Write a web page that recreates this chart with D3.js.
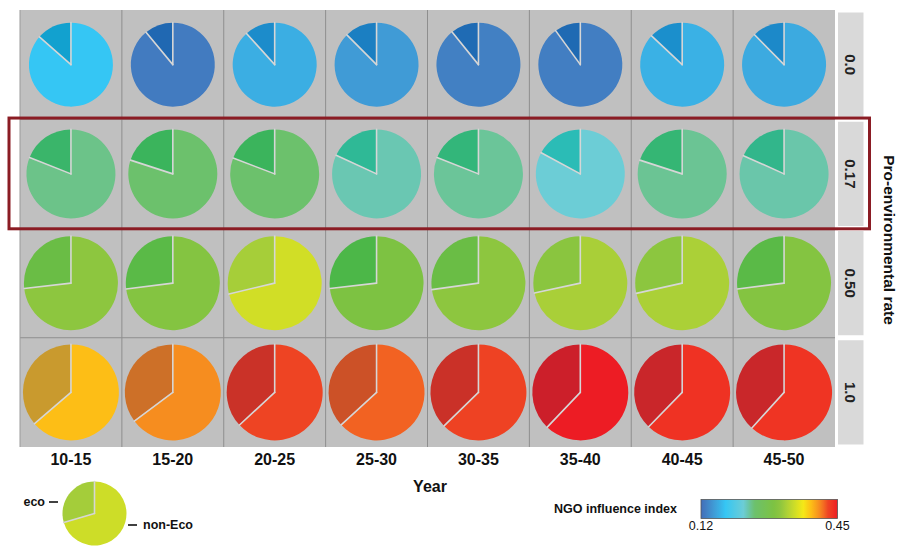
<!DOCTYPE html>
<html>
<head>
<meta charset="utf-8">
<script src="https://cdn.jsdelivr.net/npm/d3@7"></script>
<style>
  html, body { margin: 0; padding: 0; background: #ffffff; }
  svg { display: block; font-family: "Liberation Sans", Arial, sans-serif; }
</style>
</head>
<body>
<svg id="chart" width="898" height="548"></svg>
<script>
// Year windows (columns) and pro-environmental rates (rows)
const years = ["10-15", "15-20", "20-25", "25-30", "30-35", "35-40", "40-45", "45-50"];
const rates = ["0.0", "0.17", "0.50", "1.0"];

// NGO influence index per cell (row = rate, column = year window)
const ngoIndexRate00 = [0.179, 0.130, 0.164, 0.151, 0.133, 0.132, 0.166, 0.161];
const ngoIndexRate017 = [0.242, 0.250, 0.250, 0.232, 0.238, 0.2225, 0.2394, 0.234];
const ngoIndexRate050 = [0.311, 0.303, 0.348, 0.296, 0.311, 0.326, 0.327, 0.303];
const ngoIndexRate100 = [0.386, 0.406, 0.427, 0.419, 0.428, 0.450, 0.438, 0.437];

// Share of eco agents per cell
const ecoShareRate00 = [0.135, 0.110, 0.117, 0.125, 0.108, 0.100, 0.130, 0.124];
const ecoShareRate017 = [0.190, 0.200, 0.192, 0.181, 0.190, 0.171, 0.200, 0.183];
const ecoShareRate050 = [0.268, 0.270, 0.287, 0.268, 0.272, 0.284, 0.285, 0.270];
const ecoShareRate100 = [0.363, 0.352, 0.369, 0.368, 0.373, 0.379, 0.377, 0.383];

// Example pie in the key
const legendIndex = 0.346;
const legendEcoShare = 0.295;

// Colour index range shown on the colour bar
const indexDomain = [0.12, 0.45];
const indexTicks = ["0.12", "0.45"];

// Palette for the non-eco share and the shaded palette for the eco share
const mainStops = [0.120, 0.130, 0.151, 0.164, 0.179, 0.2225, 0.232, 0.242, 0.250, 0.296, 0.311, 0.327, 0.348, 0.367, 0.386, 0.406, 0.419, 0.427, 0.438, 0.450];
const mainColors = ["#426eb9", "#427bc0", "#409bd6", "#3baee3", "#35c6f4", "#6ccdd6", "#6ac7b2", "#6cc389", "#6cc16c", "#7dc242", "#8dc63f", "#abd037", "#d1de26", "#f5e917", "#fdbe16", "#f68d1f", "#f26222", "#ee4423", "#ef3223", "#ed1c24"];
const ecoStops = [0.120, 0.132, 0.151, 0.164, 0.179, 0.2225, 0.232, 0.234, 0.238, 0.242, 0.250, 0.296, 0.311, 0.327, 0.348, 0.386, 0.406, 0.419, 0.427, 0.438, 0.450];
const ecoColors = ["#2360ac", "#1f6ab3", "#1b7fc2", "#1c8ccb", "#12a1cf", "#2bbcb6", "#2fb996", "#32b68b", "#33b67a", "#3ab56a", "#3bb45c", "#4cb748", "#6abd45", "#8cc63f", "#a6ce39", "#c99a2e", "#cd7028", "#cc5127", "#ca3228", "#c9262a", "#cc1f2a"];

const ngoIndex = [ngoIndexRate00, ngoIndexRate017, ngoIndexRate050, ngoIndexRate100];
const ecoShare = [ecoShareRate00, ecoShareRate017, ecoShareRate050, ecoShareRate100];

const mainColor = d3.scaleLinear().domain(mainStops).range(mainColors).interpolate(d3.interpolateRgb).clamp(true);
const ecoColor = d3.scaleLinear().domain(ecoStops).range(ecoColors).interpolate(d3.interpolateRgb).clamp(true);

const svg = d3.select("#chart");
const font = "'Liberation Sans', Arial, sans-serif";

// Panel grid
const x = d3.scaleBand().domain(years).range([20, 835]);
const y = d3.scaleBand().domain(rates).range([10, 447]);
const pieRadius = [42, 44.5, 47, 48];

svg.append("rect")
  .attr("x", x.range()[0]).attr("y", y.range()[0])
  .attr("width", x.range()[1] - x.range()[0])
  .attr("height", y.range()[1] - y.range()[0])
  .attr("fill", "#c0c0c0");

// Cell separators
const gridG = svg.append("g").attr("stroke", "#8e8e8e").attr("stroke-width", 1);
years.forEach((yr, i) => {
  if (i === 0) return;
  gridG.append("line")
    .attr("x1", x(yr)).attr("x2", x(yr))
    .attr("y1", y.range()[0]).attr("y2", y.range()[1]);
});
rates.forEach((r, i) => {
  if (i === 0) return;
  gridG.append("line")
    .attr("x1", x.range()[0]).attr("x2", x.range()[1])
    .attr("y1", y(r)).attr("y2", y(r));
});
gridG.append("line")
  .attr("x1", x.range()[0]).attr("x2", x.range()[0])
  .attr("y1", y.range()[0]).attr("y2", y.range()[1])
  .attr("stroke", "#9a9a9a");

// Draws one eco / non-eco pie
function drawPie(g, cx, cy, r, share, idx) {
  const pie = d3.pie()
    .sort(null)
    .value(d => d.value)
    .startAngle(-share * 2 * Math.PI)
    .endAngle((1 - share) * 2 * Math.PI);
  const arc = d3.arc().innerRadius(0).outerRadius(r);
  const parts = pie([
    { key: "eco", value: share },
    { key: "non-Eco", value: 1 - share }
  ]);
  const pg = g.append("g").attr("transform", `translate(${cx},${cy})`);
  pg.selectAll("path")
    .data(parts)
    .join("path")
    .attr("d", arc)
    .attr("fill", d => d.data.key === "eco" ? ecoColor(idx) : mainColor(idx));
  // slice dividers
  [parts[0].startAngle, parts[0].endAngle].forEach(a => {
    pg.append("line")
      .attr("x1", 0).attr("y1", 0)
      .attr("x2", r * Math.sin(a)).attr("y2", -r * Math.cos(a))
      .attr("stroke", "#d6d6d6")
      .attr("stroke-width", 1.6)
      .attr("stroke-linecap", "round");
  });
}

const pieG = svg.append("g");
rates.forEach((rate, ri) => {
  years.forEach((yr, ci) => {
    drawPie(pieG,
      x(yr) + x.bandwidth() / 2,
      y(rate) + y.bandwidth() / 2,
      pieRadius[ri],
      ecoShare[ri][ci],
      ngoIndex[ri][ci]);
  });
});

// Row strips on the right
const stripG = svg.append("g");
rates.forEach(rate => {
  const y0 = y(rate) + 2.5;
  const h = y.bandwidth() - 5;
  stripG.append("rect")
    .attr("x", 838).attr("y", y0)
    .attr("width", 25.5).attr("height", h)
    .attr("fill", "#d9d9d9");
  stripG.append("text")
    .attr("transform", `translate(850.5,${y0 + h / 2}) rotate(90)`)
    .attr("text-anchor", "middle")
    .attr("dominant-baseline", "central")
    .attr("font-family", font)
    .attr("font-size", 15)
    .attr("font-weight", "bold")
    .attr("fill", "#222")
    .text(rate);
});

// Highlight around the 0.17 row
svg.append("rect")
  .attr("x", 9).attr("y", y("0.17") - 1.2)
  .attr("width", 860.5)
  .attr("height", y.bandwidth() + 1.5)
  .attr("fill", "none")
  .attr("stroke", "#8b1c24")
  .attr("stroke-width", 3);

// Column labels
svg.append("g").selectAll("text")
  .data(years)
  .join("text")
  .attr("x", d => x(d) + x.bandwidth() / 2)
  .attr("y", 465)
  .attr("text-anchor", "middle")
  .attr("font-family", font)
  .attr("font-size", 16)
  .attr("font-weight", "bold")
  .attr("fill", "#111")
  .text(d => d);

// Axis titles
svg.append("text")
  .attr("x", 430).attr("y", 492)
  .attr("text-anchor", "middle")
  .attr("font-family", font)
  .attr("font-size", 16)
  .attr("font-weight", "bold")
  .attr("fill", "#111")
  .text("Year");

svg.append("text")
  .attr("transform", "translate(889,240) rotate(90)")
  .attr("text-anchor", "middle")
  .attr("dominant-baseline", "central")
  .attr("font-family", font)
  .attr("font-size", 15.5)
  .attr("font-weight", "bold")
  .attr("fill", "#111")
  .text("Pro-environmental rate");

// Key pie
const keyG = svg.append("g");
drawPie(keyG, 94.5, 513.5, 32, legendEcoShare, legendIndex);
keyG.append("text")
  .attr("x", 45).attr("y", 502)
  .attr("text-anchor", "end")
  .attr("dominant-baseline", "central")
  .attr("font-family", font).attr("font-size", 12.5).attr("font-weight", "bold")
  .attr("fill", "#111")
  .text("eco");
keyG.append("line")
  .attr("x1", 49).attr("x2", 58).attr("y1", 502).attr("y2", 502)
  .attr("stroke", "#111").attr("stroke-width", 1.6);
keyG.append("line")
  .attr("x1", 128).attr("x2", 137).attr("y1", 525).attr("y2", 525)
  .attr("stroke", "#111").attr("stroke-width", 1.6);
keyG.append("text")
  .attr("x", 143).attr("y", 525)
  .attr("dominant-baseline", "central")
  .attr("font-family", font).attr("font-size", 12.5).attr("font-weight", "bold")
  .attr("fill", "#111")
  .text("non-Eco");

// Colour bar
const barX = d3.scaleLinear().domain(indexDomain).range([701, 837.5]);
const defs = svg.append("defs");
const grad = defs.append("linearGradient").attr("id", "ngoGrad")
  .attr("x1", "0%").attr("x2", "100%").attr("y1", "0%").attr("y2", "0%");
d3.range(0, 1.0001, 0.01).forEach(t => {
  const v = indexDomain[0] + t * (indexDomain[1] - indexDomain[0]);
  grad.append("stop").attr("offset", `${t * 100}%`).attr("stop-color", mainColor(v));
});
svg.append("rect")
  .attr("x", barX(indexDomain[0])).attr("y", 499.5)
  .attr("width", barX(indexDomain[1]) - barX(indexDomain[0]))
  .attr("height", 19)
  .attr("fill", "url(#ngoGrad)")
  .attr("stroke", "#555").attr("stroke-width", 0.8);

svg.append("text")
  .attr("x", 677).attr("y", 513)
  .attr("text-anchor", "end")
  .attr("font-family", font).attr("font-size", 12.5).attr("font-weight", "bold")
  .attr("fill", "#111")
  .text("NGO influence index");

svg.append("g").selectAll("text")
  .data(indexTicks)
  .join("text")
  .attr("x", d => barX(+d))
  .attr("y", 530)
  .attr("text-anchor", "middle")
  .attr("font-family", font).attr("font-size", 12.5)
  .attr("fill", "#111")
  .text(d => d);
</script>
</body>
</html>
